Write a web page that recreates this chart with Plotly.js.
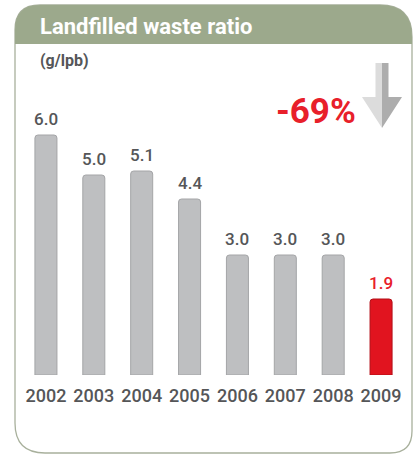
<!DOCTYPE html>
<html>
<head>
<meta charset="utf-8">
<script src="https://cdn.plot.ly/plotly-3.0.1.min.js"></script>
<style>html,body{margin:0;padding:0;background:#fff;}#chart{width:414px;height:454px;}</style>
</head>
<body>
<div id="chart"></div>
<script>
// Data
var years = ["2002", "2003", "2004", "2005", "2006", "2007", "2008", "2009"];
var values = [6.0, 5.0, 5.1, 4.4, 3.0, 3.0, 3.0, 1.9];
var unitLabel = "(g/lpb)";
var changeLabel = "-69%";
var titleText = "Landfilled waste ratio";

var W = 414, H = 454;
var M = {l: 22, r: 9, t: 15, b: 79};
function X(px) { return (px - M.l) / (W - M.l - M.r); }
function Y(py) { return (H - M.b - py) / (H - M.t - M.b); }
function P(pts) {
  return pts.map(function (p, i) { return (i ? "L" : "M") + X(p[0]).toFixed(5) + "," + Y(p[1]).toFixed(5); }).join(" ") + " Z";
}

var gray = "#BEBFC1", grayLine = "#A4A5A7", red = "#E1141F", redLine = "#B30E17";
var textGray = "#555658", textRed = "#E8202A";
var n = values.length;
var colors = values.map(function (v, i) { return i === n - 1 ? red : gray; });
var lineColors = values.map(function (v, i) { return i === n - 1 ? redLine : grayLine; });

var trace = {
  type: "bar",
  x: years,
  y: values,
  width: 0.46,
  marker: {color: colors, line: {color: lineColors, width: 1}, cornerradius: 3},
  hoverinfo: "skip"
};

var valueAnns = values.map(function (v, i) {
  return {
    x: i, y: v, xref: "x", yref: "y",
    text: v.toFixed(1), showarrow: false,
    yanchor: "bottom", yshift: 4,
    font: {family: "Roboto", size: 17, weight: 500, color: i === n - 1 ? textRed : textGray}
  };
});

var cardPath = "M" + X(15) + "," + Y(30) +
  " Q" + X(15) + "," + Y(5) + " " + X(40) + "," + Y(5) +
  " L" + X(380) + "," + Y(5) +
  " Q" + X(412) + "," + Y(5) + " " + X(412) + "," + Y(37) +
  " L" + X(412) + "," + Y(431) +
  " Q" + X(412) + "," + Y(453) + " " + X(390) + "," + Y(453) +
  " L" + X(45) + "," + Y(453) +
  " Q" + X(15) + "," + Y(453) + " " + X(15) + "," + Y(423) + " Z";

var headerPath = "M" + X(15) + "," + Y(30) +
  " Q" + X(15) + "," + Y(5) + " " + X(40) + "," + Y(5) +
  " L" + X(380) + "," + Y(5) +
  " Q" + X(412) + "," + Y(5) + " " + X(412) + "," + Y(37) +
  " L" + X(412) + "," + Y(44) +
  " L" + X(15) + "," + Y(44) + " Z";

var shapes = [
  {type: "path", xref: "paper", yref: "paper", path: cardPath, fillcolor: "#FFFFFF", line: {color: "#A8B09C", width: 1.3}, layer: "below"},
  {type: "path", xref: "paper", yref: "paper", path: headerPath, fillcolor: "#9CA98C", line: {width: 0}, layer: "below"},
  {type: "path", xref: "paper", yref: "paper", path: P([[382, 63], [375.5, 63], [375.5, 97], [362, 97], [382, 128]]), fillcolor: "#DCDCDC", line: {width: 0}},
  {type: "path", xref: "paper", yref: "paper", path: P([[382, 63], [388.5, 63], [388.5, 97], [402, 97], [382, 128]]), fillcolor: "#ADADAD", line: {width: 0}}
];

var anns = valueAnns.concat([
  {xref: "paper", yref: "paper", x: X(38), y: Y(60), xanchor: "left", yanchor: "middle", text: unitLabel, showarrow: false,
   font: {family: "Roboto", size: 16, weight: 700, color: textGray}},
  {xref: "paper", yref: "paper", x: X(358), y: Y(111), xanchor: "right", yanchor: "middle", text: changeLabel, showarrow: false,
   font: {family: "Roboto", size: 35, weight: 700, color: textRed}}
]);

var layout = {
  width: W, height: H,
  margin: M,
  paper_bgcolor: "#FFFFFF",
  plot_bgcolor: "rgba(0,0,0,0)",
  showlegend: false,
  title: {text: titleText, x: 40 / W, xanchor: "left", xref: "container", y: 1 - 26 / H, yanchor: "middle", yref: "container",
          font: {family: "Roboto", size: 22, weight: 700, color: "#FFFFFF"}},
  xaxis: {type: "category", range: [-0.5, n - 0.5], autorange: false, showgrid: false, zeroline: false, showline: false, ticks: "", fixedrange: true,
          ticklabelstandoff: 8,
          tickfont: {family: "Roboto", size: 18, weight: 500, color: textGray}},
  yaxis: {visible: false, range: [0, 9], autorange: false, fixedrange: true},
  shapes: shapes,
  annotations: anns
};

Plotly.newPlot("chart", [trace], layout, {displayModeBar: false, staticPlot: true});
</script>
</body>
</html>
